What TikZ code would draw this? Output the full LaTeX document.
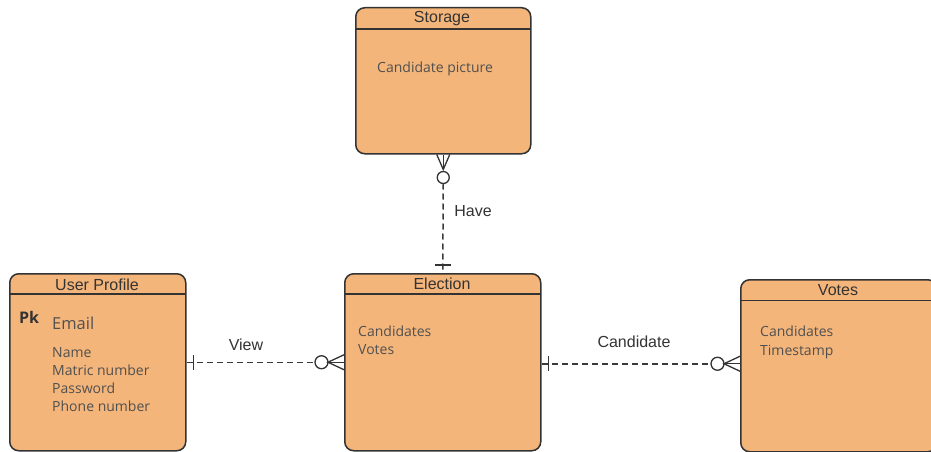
\documentclass[tikz,border=0pt]{standalone}
\usepackage{fontspec}
\setmainfont{Open Sans}
\newfontfamily\titlefont{Liberation Sans}
\newfontfamily\bodyfont{Open Sans}
\usetikzlibrary{calc}

\definecolor{entfill}{HTML}{F4B57A}
\definecolor{edgecol}{HTML}{333333}
\definecolor{titletext}{HTML}{333333}
\definecolor{bodytext}{HTML}{505050}
\definecolor{linkcol}{HTML}{3A3A3A}

\begin{document}
\begin{tikzpicture}[x=1pt,y=-1pt,
  entity/.style={draw=edgecol, line width=1.5pt, fill=entfill, rounded corners=9pt,
                 inner sep=0pt, anchor=north west},
  divider/.style={draw=edgecol, line width=1.4pt},
  etitle/.style={font=\titlefont\fontsize{16}{18}\selectfont, text=titletext, anchor=base, inner sep=0pt},
  field/.style={font=\bodyfont\fontsize{14}{16}\selectfont, text=bodytext, anchor=base west, inner sep=0pt},
  keyfield/.style={font=\bodyfont\fontsize{16.5}{18}\selectfont, text=bodytext, anchor=base west, inner sep=0pt},
  pkmark/.style={font=\bodyfont\bfseries\fontsize{16}{18}\selectfont, text=titletext, anchor=base west, inner sep=0pt},
  rlabel/.style={font=\titlefont\fontsize{16}{18}\selectfont, text=titletext, anchor=base, inner sep=0pt},
  rel/.style={draw=linkcol, line width=1.5pt, dash pattern=on 6pt off 4pt},
  solidend/.style={draw=edgecol, line width=1.3pt},
]
\useasboundingbox (0,0) rectangle (931,452);

% ---- entities ----
\node[entity, minimum width=175pt, minimum height=146pt] (storage) at (355,7) {};
\draw[divider] (355,29) -- (530,29);
\node[etitle] (storageT) at (442,23) {Storage};
\node[field] (storageF1) at (377,72) {Candidate picture};

\node[entity, minimum width=176pt, minimum height=177pt] (user) at (9,273) {};
\draw[divider] (9,294) -- (185,294);
\node[etitle] (userT) at (97,290) {User Profile};
\node[pkmark] (userPk) at (19,323) {Pk};
\node[keyfield] (userEmail) at (52,329) {Email};
\node[field] (userF1) at (52,357) {Name};
\node[field] (userF2) at (52,375) {Matric number};
\node[field] (userF3) at (52,393) {Password};
\node[field] (userF4) at (52,411) {Phone number};

\node[entity, minimum width=196pt, minimum height=177pt] (election) at (344,273) {};
\draw[divider] (344,294) -- (540,294);
\node[etitle] (electionT) at (442,289) {Election};
\node[field] (electionF1) at (358,336) {Candidates};
\node[field] (electionF2) at (358,354) {Votes};

\node[entity, minimum width=196pt, minimum height=172pt] (votes) at (740,279) {};
\draw[divider] (740,300.5) -- (936,300.5);
\node[etitle] (votesT) at (838,295.5) {Votes};
\node[field] (votesF1) at (760,336.5) {Candidates};
\node[field] (votesF2) at (760,355) {Timestamp};

% ---- Have: Storage (zero or many) -- Election (one) ----
\coordinate (haveS) at (storage.south);
\coordinate (haveE) at (election.north);
\draw[solidend] ($(haveS)+(-6.5,0)$) -- ($(haveS)+(0,15)$) -- ($(haveS)+(6.5,0)$);
\draw[solidend] (haveS) -- ($(haveS)+(0,15)$);
\draw[solidend] ($(haveS)+(0,23)$) circle[radius=6pt];
\draw[rel] ($(haveS)+(0,29)$) -- (haveE);
\draw[solidend] ($(haveE)+(-8,-8)$) -- ($(haveE)+(8,-8)$);
\node[rlabel] (haveL) at (473,216.5) {Have};

% ---- View: User Profile (one) -- Election (zero or many) ----
\coordinate (viewU) at (user.east);
\coordinate (viewE) at (user.east -| election.west);
\draw[rel] (viewU) -- ($(viewE)+(-29,0)$);
\draw[solidend] ($(viewU)+(7,-7.5)$) -- ($(viewU)+(7,7.5)$);
\draw[solidend] ($(viewE)+(-22.5,0)$) circle[radius=6.5pt];
\draw[solidend] ($(viewE)+(0,-7.5)$) -- ($(viewE)+(-16,0)$) -- ($(viewE)+(0,7.5)$);
\draw[solidend] ($(viewE)+(-16,0)$) -- (viewE);
\node[rlabel] (viewL) at (246,350) {View};

% ---- Candidate: Election (one) -- Votes (zero or many) ----
\coordinate (candE) at ($(election.east)+(0,1.5)$);
\coordinate (candV) at (candE -| votes.west);
\draw[rel] (candE) -- ($(candV)+(-29,0)$);
\draw[solidend] ($(candE)+(7,-7.5)$) -- ($(candE)+(7,7.5)$);
\draw[solidend] ($(candV)+(-22.5,0)$) circle[radius=6.5pt];
\draw[solidend] ($(candV)+(0,-7.5)$) -- ($(candV)+(-16,0)$) -- ($(candV)+(0,7.5)$);
\draw[solidend] ($(candV)+(-16,0)$) -- (candV);
\node[rlabel] (candL) at (634,347.5) {Candidate};
\end{tikzpicture}
\end{document}
